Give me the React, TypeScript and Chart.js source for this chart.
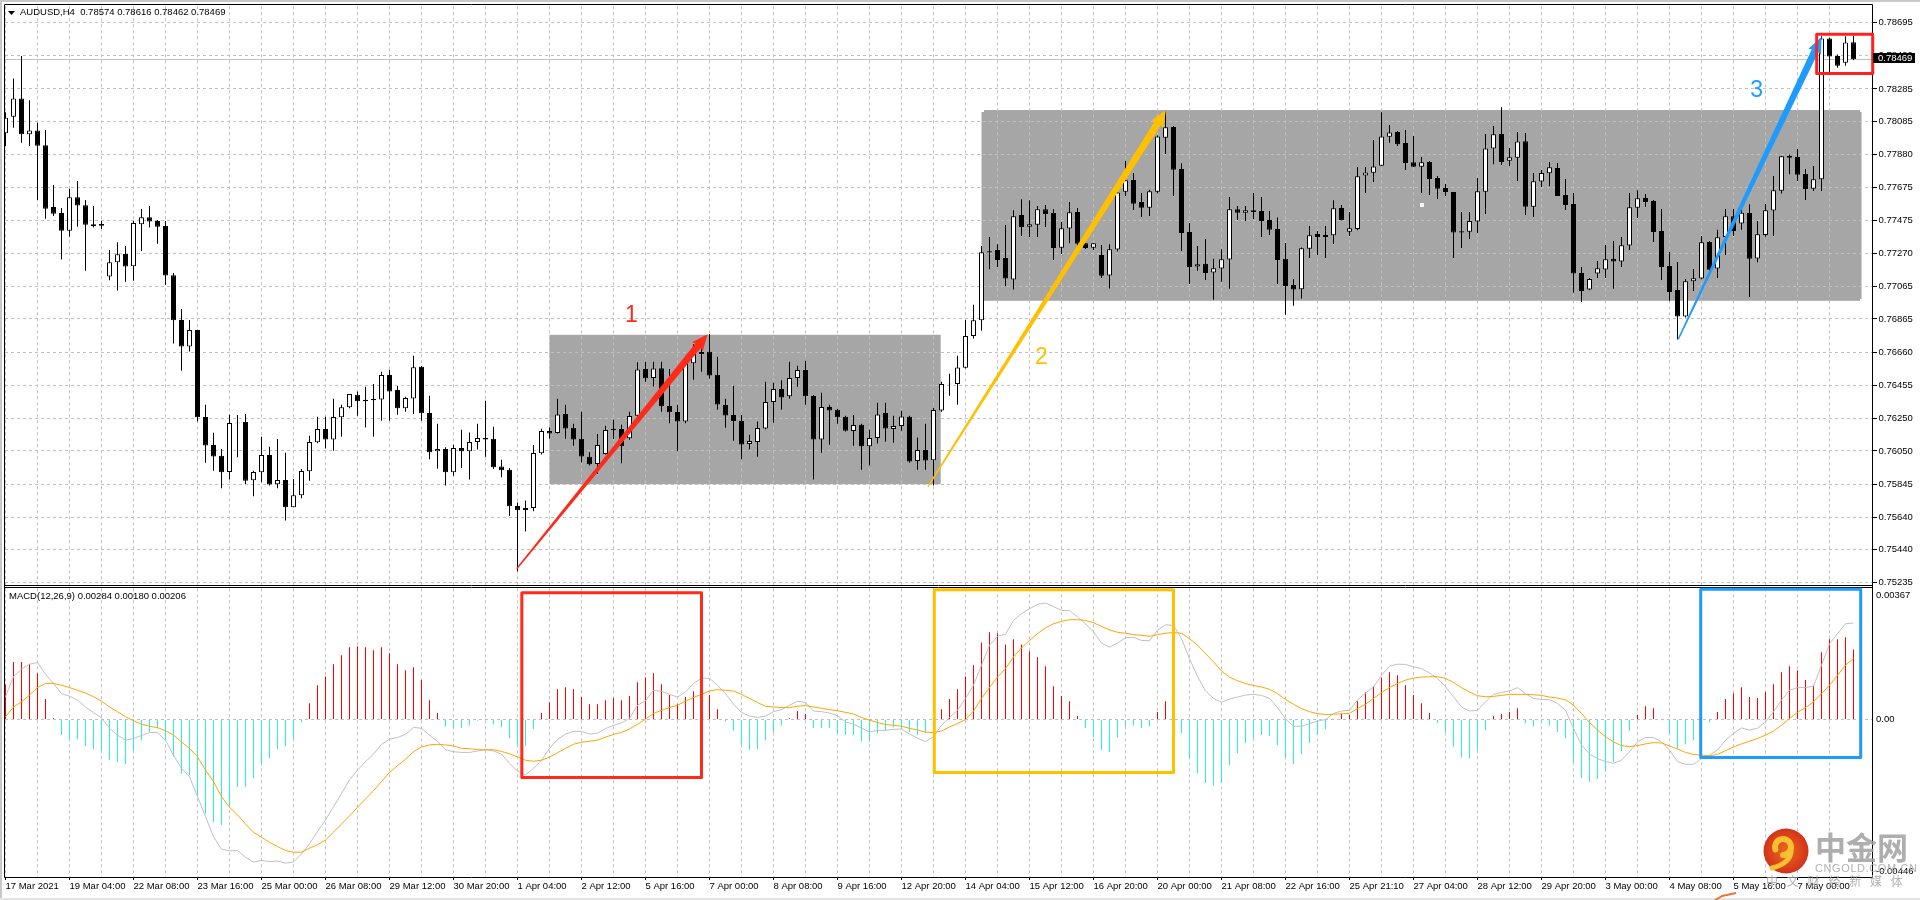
import React, { useEffect, useRef } from "react";
import { Chart, registerables } from "chart.js";

Chart.register(...registerables);

const symbolTitle = "AUDUSD,H4  0.78574 0.78616 0.78462 0.78469";
const macdTitle = "MACD(12,26,9) 0.00284 0.00180 0.00206";
const lastPrice = 0.78469;

const priceTicks = [0.78695,0.7849,0.78285,0.78085,0.7788,0.77675,0.77475,0.7727,0.77065,0.76865,0.7666,0.76455,0.7625,0.7605,0.75845,0.7564,0.7544,0.75235];
const macdTicks = [0.00367, 0, -0.00446];
const macdTickLabels = ["0.00367", "0.00", "-0.00446"];
const timeLabels = ["17 Mar 2021","19 Mar 04:00","22 Mar 08:00","23 Mar 16:00","25 Mar 00:00","26 Mar 08:00","29 Mar 12:00","30 Mar 20:00","1 Apr 04:00","2 Apr 12:00","5 Apr 16:00","7 Apr 00:00","8 Apr 08:00","9 Apr 16:00","12 Apr 20:00","14 Apr 04:00","15 Apr 12:00","16 Apr 20:00","20 Apr 00:00","21 Apr 08:00","22 Apr 16:00","25 Apr 21:10","27 Apr 04:00","28 Apr 12:00","29 Apr 20:00","3 May 00:00","4 May 08:00","5 May 16:00","7 May 00:00"];

const opens = [
0.78011,0.78114,0.78227,0.78005,0.78029,0.77937,0.77556,0.77519,0.7741,0.77616,
0.77567,0.77449,0.77451,0.77127,0.77215,0.77266,0.7719,0.77449,0.77493,0.7747,
0.77439,0.77135,0.76859,0.76695,0.76796,0.76259,0.76086,0.7602,0.7592,0.76224,
0.76228,0.75868,0.75918,0.76025,0.75844,0.7587,0.75702,0.75776,0.75924,0.76103,
0.76185,0.76121,0.76257,0.76319,0.76397,0.76366,0.7637,0.76368,0.76518,0.76426,
0.76313,0.76374,0.76569,0.76284,0.76047,0.76062,0.75918,0.76068,0.76047,0.76105,
0.7613,0.76125,0.75953,0.75934,0.7571,0.75685,0.75698,0.76035,0.76173,0.7616,
0.76278,0.76193,0.76125,0.76014,0.75969,0.76031,0.76187,0.76185,0.76128,0.76267,
0.76555,0.765,0.76561,0.76327,0.7629,0.76232,0.76592,0.76648,0.76662,0.7652,
0.76333,0.76271,0.76234,0.76092,0.76105,0.76189,0.76352,0.76432,0.76387,0.765,
0.76549,0.76389,0.76121,0.76321,0.76304,0.76261,0.76173,0.76212,0.76078,0.7613,
0.76284,0.76185,0.76203,0.76261,0.75988,0.76056,0.75992,0.763,0.76465,0.76463,
0.76563,0.76759,0.76857,0.77283,0.77291,0.77242,0.77108,0.77507,0.77435,0.77447,
0.77542,0.77519,0.77305,0.77423,0.77526,0.77332,0.77305,0.7726,0.77133,0.77293,
0.77651,0.77723,0.77587,0.77552,0.77651,0.77984,0.7805,0.77791,0.77402,0.77188,
0.77205,0.77151,0.77176,0.77232,0.77542,0.77521,0.77536,0.77532,0.77476,0.77421,
0.77236,0.77075,0.77049,0.77299,0.7739,0.77384,0.77382,0.7755,0.77404,0.77421,
0.7775,0.77768,0.77811,0.7799,0.78019,0.77951,0.77832,0.77805,0.77834,0.77735,
0.77674,0.77649,0.77406,0.77404,0.77466,0.77651,0.77918,0.78007,0.77842,0.77861,
0.77963,0.77558,0.77713,0.77764,0.77797,0.7763,0.77575,0.77149,0.77046,0.77145,
0.7717,0.77236,0.77219,0.77318,0.77552,0.77612,0.77593,0.77408,0.77192,0.77044,
0.7688,0.77098,0.77114,0.7734,0.77176,0.77371,0.77499,0.77454,0.77519,0.77238,
0.77384,0.77534,0.77657,0.77871,0.77865,0.7776,0.77669,0.77727,0.78597,0.78488,
0.78447,0.78574];

const closes = [
0.78107,0.78227,0.78005,0.78029,0.77935,0.77546,0.77515,0.7741,0.77616,0.77565,
0.77447,0.77439,0.77441,0.77215,0.77264,0.77188,0.77458,0.77493,0.77466,0.77435,
0.77133,0.76857,0.76695,0.76796,0.76257,0.76084,0.76016,0.75918,0.76222,0.7622,
0.75866,0.7592,0.76025,0.75842,0.7587,0.75702,0.75776,0.75926,0.76105,0.76185,
0.76121,0.76259,0.76319,0.76401,0.76356,0.76356,0.76362,0.76518,0.76417,0.76313,
0.76376,0.76567,0.76282,0.76041,0.76062,0.75918,0.76068,0.76047,0.76105,0.7613,
0.76121,0.75949,0.7593,0.75708,0.75683,0.75698,0.76037,0.76173,0.76158,0.76275,
0.76189,0.76121,0.76016,0.75967,0.76086,0.76179,0.76179,0.76078,0.76265,0.76553,
0.76498,0.76559,0.76325,0.76288,0.76232,0.76596,0.76648,0.7666,0.76516,0.76337,
0.76269,0.76234,0.7609,0.76111,0.76191,0.76352,0.76432,0.7638,0.765,0.76549,
0.76387,0.76121,0.76321,0.763,0.76257,0.76175,0.7621,0.76078,0.7613,0.76275,
0.76189,0.76203,0.76263,0.75984,0.76056,0.7599,0.76302,0.76463,0.76461,0.76565,
0.76759,0.76857,0.77277,0.77275,0.77229,0.77114,0.77499,0.77433,0.77449,0.77542,
0.77513,0.77303,0.77425,0.77524,0.7733,0.77303,0.77332,0.77131,0.77295,0.77645,
0.77721,0.77577,0.77552,0.77653,0.77992,0.78048,0.77787,0.77396,0.77186,0.77203,
0.77149,0.77178,0.77234,0.77542,0.77521,0.77536,0.77526,0.7747,0.77415,0.77229,
0.77069,0.77046,0.77301,0.77382,0.77371,0.77371,0.77548,0.77476,0.77425,0.77746,
0.7777,0.77807,0.77992,0.78017,0.77943,0.77828,0.77805,0.77832,0.77729,0.77669,
0.77649,0.77398,0.77398,0.7747,0.77653,0.77918,0.78005,0.77834,0.77863,0.77961,
0.77558,0.77715,0.77766,0.77801,0.77624,0.77569,0.77145,0.77038,0.77112,0.77178,
0.77234,0.77219,0.7732,0.77554,0.7761,0.77587,0.77402,0.77186,0.77032,0.7688,
0.77098,0.77116,0.77338,0.77168,0.77369,0.77499,0.77408,0.77521,0.77236,0.77388,
0.77536,0.77659,0.77869,0.77861,0.77756,0.77667,0.77727,0.78597,0.78486,0.78428,
0.78572,0.78469];

const highs = [
0.78142,0.7835,0.78488,0.78216,0.78077,0.78031,0.77692,0.7755,0.77667,0.77717,
0.776,0.77563,0.7747,0.77291,0.77338,0.77316,0.7747,0.77544,0.77563,0.77476,
0.7747,0.77149,0.76927,0.76859,0.76798,0.76335,0.76162,0.76062,0.76273,0.76271,
0.76278,0.75928,0.76138,0.76076,0.76123,0.76039,0.75877,0.75938,0.76144,0.76261,
0.76261,0.76372,0.76335,0.76401,0.76417,0.76446,0.76463,0.76539,0.76551,0.7645,
0.76384,0.76637,0.76574,0.76391,0.76218,0.76072,0.76088,0.76181,0.76164,0.76218,
0.7636,0.76199,0.75996,0.75944,0.75731,0.75743,0.76086,0.76187,0.76195,0.76372,
0.76335,0.76218,0.76292,0.76041,0.76154,0.76206,0.76243,0.76212,0.76292,0.76598,
0.766,0.766,0.766,0.76555,0.76335,0.76637,0.76709,0.76709,0.76771,0.76631,
0.76372,0.76452,0.76271,0.7615,0.76232,0.76477,0.76471,0.76487,0.766,0.76576,
0.76606,0.76395,0.76409,0.76335,0.7631,0.76267,0.76271,0.76218,0.76181,0.76348,
0.76348,0.76267,0.76298,0.76267,0.76132,0.76218,0.76315,0.76477,0.76526,0.76637,
0.76859,0.76952,0.77316,0.77371,0.77326,0.77445,0.77536,0.77604,0.77598,0.77563,
0.77569,0.77542,0.77464,0.77587,0.7755,0.77336,0.77332,0.77322,0.77326,0.77676,
0.7784,0.77766,0.77643,0.77663,0.77998,0.78149,0.78056,0.77826,0.77458,0.77316,
0.77359,0.77236,0.77295,0.77618,0.77563,0.77563,0.77643,0.77618,0.77532,0.77491,
0.77334,0.77112,0.77306,0.77439,0.77408,0.77439,0.77598,0.77569,0.77526,0.77803,
0.77803,0.7797,0.78142,0.78062,0.78025,0.78031,0.77994,0.77865,0.7784,0.77748,
0.77698,0.77649,0.77526,0.77526,0.77735,0.78007,0.78056,0.78173,0.7792,0.78019,
0.78013,0.77766,0.77785,0.77834,0.77828,0.77729,0.77643,0.77186,0.77118,0.77223,
0.77322,0.77347,0.77371,0.77643,0.77659,0.77637,0.776,0.77544,0.77279,0.77217,
0.77112,0.77174,0.77377,0.77347,0.77415,0.77544,0.77544,0.77563,0.77573,0.7747,
0.77575,0.77748,0.77871,0.77881,0.77914,0.77791,0.77809,0.78611,0.78601,0.78498,
0.78611,0.78616];

const lows = [
0.77933,0.78046,0.77953,0.77933,0.776,0.77484,0.77501,0.77232,0.77373,0.77435,
0.77162,0.77429,0.77421,0.77104,0.7704,0.77094,0.771,0.77285,0.77429,0.7733,
0.77075,0.76713,0.76545,0.76664,0.76232,0.75977,0.75928,0.75819,0.75873,0.7601,
0.75846,0.7577,0.75856,0.75836,0.75819,0.7562,0.75702,0.75757,0.75866,0.76097,
0.76064,0.76051,0.76138,0.76313,0.76267,0.76195,0.76138,0.76236,0.76236,0.76273,
0.76292,0.76278,0.76236,0.75998,0.7594,0.75836,0.75897,0.75944,0.75873,0.76058,
0.76014,0.75938,0.75887,0.7565,0.75307,0.75552,0.75677,0.76027,0.76125,0.76158,
0.76125,0.76082,0.75979,0.75959,0.75907,0.76027,0.76123,0.75973,0.76119,0.76257,
0.76477,0.76448,0.76292,0.7622,0.76047,0.7622,0.76489,0.76539,0.76495,0.76304,
0.76193,0.76113,0.75998,0.76058,0.76014,0.76183,0.76224,0.76304,0.76372,0.76446,
0.76335,0.75873,0.76039,0.76088,0.76218,0.76169,0.76082,0.75934,0.75959,0.76095,
0.76107,0.76101,0.76175,0.75977,0.75934,0.75934,0.75836,0.76292,0.76391,0.76335,
0.76559,0.76744,0.76792,0.77172,0.77186,0.77069,0.77046,0.77377,0.77371,0.77371,
0.77433,0.77229,0.77266,0.77332,0.77301,0.77297,0.77291,0.77118,0.77053,0.77281,
0.77624,0.77538,0.77495,0.77501,0.77639,0.77883,0.77624,0.77285,0.77081,0.77162,
0.77106,0.76983,0.77094,0.77051,0.77476,0.7747,0.77482,0.77371,0.77384,0.77081,
0.7689,0.76946,0.76991,0.77242,0.7726,0.77242,0.77328,0.77474,0.77377,0.77412,
0.77643,0.77711,0.77809,0.77953,0.77933,0.77785,0.77803,0.77643,0.7763,0.77606,
0.77624,0.77242,0.77303,0.77359,0.77396,0.77513,0.7782,0.77815,0.77809,0.77717,
0.77507,0.77495,0.7768,0.77684,0.77624,0.77538,0.77026,0.7697,0.77042,0.77118,
0.77118,0.77051,0.77186,0.77291,0.77489,0.77558,0.7734,0.77106,0.76977,0.76738,
0.76874,0.77038,0.7711,0.77162,0.77118,0.7726,0.77377,0.77415,0.77001,0.77215,
0.77373,0.77377,0.77639,0.77758,0.77717,0.776,0.77655,0.77655,0.78385,0.78416,
0.78428,0.78462];

const histogram = [
0.00104,0.00169,0.00169,0.00163,0.00136,0.0006,0.00004,-0.00046,-0.00056,-0.00058,
-0.00078,-0.00087,-0.00092,-0.0012,-0.00125,-0.00131,-0.00092,-0.00061,-0.00038,-0.00026,
-0.00059,-0.0011,-0.00159,-0.00164,-0.00227,-0.00278,-0.00302,-0.00311,-0.00255,-0.00199,
-0.00199,-0.00172,-0.00131,-0.00114,-0.00087,-0.00078,-0.00056,-0.00008,0.00048,0.00101,
0.00127,0.00163,0.00189,0.00213,0.00216,0.00213,0.00204,0.00213,0.00195,0.00163,
0.00145,0.00154,0.00116,0.00057,0.00019,-0.00021,-0.00024,-0.00025,-0.00017,-0.00004,
0.00001,-0.00014,-0.00023,-0.00055,-0.00075,-0.00078,-0.00028,0.00019,0.00051,0.00089,
0.00095,0.00089,0.00066,0.00045,0.00045,0.00057,0.00063,0.00057,0.00069,0.0011,
0.00124,0.00136,0.00104,0.00072,0.00045,0.00066,0.00083,0.00086,0.00072,0.0003,
-0.00005,-0.00034,-0.00074,-0.0009,-0.00087,-0.00061,-0.00037,-0.00017,0.00004,0.00025,
0.00016,-0.00025,-0.00025,-0.00025,-0.0004,-0.00046,-0.00046,-0.00064,-0.00064,-0.0004,
-0.00034,-0.00023,-0.00027,-0.00037,-0.00046,-0.00039,-0.00052,0.0003,0.0006,0.00089,
0.00127,0.0016,0.00227,0.00257,0.00254,0.00221,0.00236,0.00221,0.00201,0.00183,
0.00157,0.00098,0.00069,0.00054,0.0001,-0.00025,-0.00052,-0.0009,-0.00096,-0.00052,
-0.0002,-0.00017,-0.00025,-0.0002,0.00022,0.00054,0,-0.0004,-0.00114,-0.00158,
-0.00187,-0.00195,-0.00187,-0.00134,-0.00099,-0.0007,-0.00055,-0.00046,-0.00049,-0.00075,
-0.00111,-0.00131,-0.00102,-0.0007,-0.00046,-0.00028,0.00001,0.00016,0.00013,0.00054,
0.0008,0.00098,0.00124,0.00139,0.0013,0.00101,0.00072,0.00048,0.00019,-0.00011,
-0.00037,-0.00081,-0.00111,-0.00114,-0.0009,-0.00031,0.0001,0.00016,0.00022,0.00033,
-0.00011,-0.0002,-0.00008,-0.00017,-0.00037,-0.00055,-0.00126,-0.00172,-0.00184,-0.00175,
-0.00152,-0.00125,-0.00093,-0.00034,0.00013,0.00039,0.00033,-0.00002,-0.0004,-0.00087,
-0.00073,-0.00061,-0.0006,-0.00008,0.00022,0.0006,0.00077,0.00095,0.00066,0.00063,
0.0008,0.00104,0.00139,0.00157,0.00145,0.00116,0.00101,0.00198,0.00236,0.00236,
0.00242,0.00206];

const macdLine = [
0.00067,0.00127,0.00148,0.00163,0.00168,0.00133,0.00106,0.00076,0.00069,0.00057,
0.00037,0.0002,0.00005,-0.00026,-0.00046,-0.00061,-0.00056,-0.00047,-0.00039,-0.00038,
-0.00061,-0.00105,-0.00144,-0.00169,-0.00227,-0.00286,-0.00345,-0.00382,-0.00387,-0.00386,
-0.00406,-0.0042,-0.00415,-0.00419,-0.00417,-0.00423,-0.0042,-0.00396,-0.00366,-0.0033,
-0.00296,-0.00257,-0.00218,-0.00178,-0.00149,-0.00124,-0.00102,-0.00073,-0.00058,-0.00053,
-0.00044,-0.00023,-0.00026,-0.00046,-0.00064,-0.00089,-0.00095,-0.00097,-0.00097,-0.00093,
-0.00089,-0.00093,-0.00102,-0.00129,-0.00152,-0.00163,-0.00144,-0.0012,-0.00085,-0.00059,
-0.00043,-0.00035,-0.00035,-0.00043,-0.0004,-0.00027,-0.00017,-0.0001,0.00003,0.00042,
0.00055,0.00086,0.00083,0.00074,0.00066,0.00081,0.00106,0.00122,0.00121,0.00101,
0.00076,0.00045,0.00021,0.0001,0.00006,0.0001,0.00023,0.00029,0.00042,0.00054,
0.0005,0.00025,0.00023,0.00019,0.00011,-0.00007,-0.00014,-0.00025,-0.00037,-0.00032,
-0.00032,-0.00029,-0.00028,-0.00043,-0.00055,-0.00065,-0.00051,-0.00017,0.00006,0.00027,
0.00062,0.00101,0.0016,0.00219,0.00245,0.00251,0.00292,0.00312,0.00326,0.00339,
0.00343,0.00333,0.00321,0.00321,0.00302,0.00282,0.00258,0.00225,0.00213,0.00225,
0.00241,0.00242,0.00233,0.00232,0.00263,0.00279,0.00277,0.00238,0.00179,0.00127,
0.00084,0.00062,0.00051,0.0006,0.00066,0.00072,0.00074,0.00071,0.00062,0.00035,
0.00002,-0.0002,-0.0002,-0.00012,-0.00005,0,0.00018,0.00025,0.00027,0.00057,
0.00078,0.00096,0.0013,0.00157,0.00163,0.00162,0.00155,0.0015,0.00137,0.00121,
0.00096,0.00067,0.00037,0.00025,0.00027,0.00052,0.00074,0.0008,0.00084,0.00094,
0.00076,0.00062,0.00059,0.00059,0.00047,0.00027,-0.00026,-0.00075,-0.00102,-0.00115,
-0.00124,-0.00129,-0.0012,-0.00095,-0.00066,-0.00053,-0.00053,-0.00066,-0.0009,-0.00124,
-0.00132,-0.00132,-0.00115,-0.00105,-0.0009,-0.00061,-0.00041,-0.00025,-0.00031,-0.00026,
-0.00007,0.00023,0.00057,0.00086,0.00094,0.00094,0.00098,0.0016,0.00223,0.00253,
0.00282,0.00284];

const signalLine = [
0.00008,0.00037,0.00052,0.00072,0.00094,0.00106,0.00106,0.00101,0.00094,0.00086,
0.00078,0.00067,0.00054,0.00037,0.00023,0.00008,-0.00004,-0.00014,-0.0002,-0.00024,
-0.00033,-0.00046,-0.00066,-0.00085,-0.0011,-0.00149,-0.00183,-0.00227,-0.00259,-0.00281,
-0.00308,-0.00332,-0.00347,-0.00362,-0.00374,-0.00386,-0.00391,-0.00391,-0.00379,-0.00369,
-0.00355,-0.00332,-0.00308,-0.00284,-0.00259,-0.00234,-0.0021,-0.00183,-0.00156,-0.00136,
-0.00117,-0.00095,-0.00081,-0.00075,-0.00073,-0.00075,-0.00078,-0.00085,-0.00086,-0.00089,
-0.00089,-0.00089,-0.00094,-0.00101,-0.0011,-0.0012,-0.00123,-0.0012,-0.00111,-0.00098,
-0.00085,-0.00073,-0.00067,-0.00064,-0.00061,-0.00052,-0.00044,-0.00038,-0.00028,-0.00014,
0.00001,0.00018,0.00027,0.00035,0.00042,0.00054,0.00065,0.00074,0.00084,0.00088,
0.00086,0.00084,0.00074,0.00062,0.0005,0.00039,0.00037,0.00035,0.00035,0.00039,
0.00041,0.00037,0.00033,0.00029,0.00026,0.00021,0.00016,0.00006,-0.00002,-0.00009,
-0.00015,-0.00017,-0.0002,-0.00026,-0.00031,-0.00037,-0.00039,-0.00034,-0.00022,-0.00012,
0,0.00025,0.00062,0.00094,0.00125,0.0015,0.00184,0.00211,0.00233,0.00253,
0.0027,0.00282,0.00289,0.00294,0.00294,0.00292,0.00285,0.00274,0.00264,0.00257,
0.00254,0.0025,0.00248,0.00245,0.0025,0.00254,0.00256,0.00254,0.00238,0.00219,
0.00194,0.0017,0.00143,0.00125,0.00114,0.00106,0.001,0.00096,0.00089,0.00076,
0.00059,0.00045,0.00032,0.00023,0.00017,0.00015,0.00015,0.00017,0.00018,0.00032,
0.00045,0.00062,0.00079,0.00094,0.00106,0.00116,0.00122,0.00125,0.00126,0.00126,
0.00121,0.00109,0.00094,0.00081,0.0007,0.00067,0.00068,0.00071,0.00074,0.00074,
0.00074,0.00073,0.00071,0.00066,0.00063,0.00058,0.00042,0.00018,-0.00009,-0.00031,
-0.00051,-0.00066,-0.00077,-0.0008,-0.00077,-0.00072,-0.00068,-0.00069,-0.00078,-0.00087,
-0.00097,-0.00103,-0.00105,-0.00107,-0.00103,-0.00092,-0.00081,-0.00072,-0.00064,-0.00056,
-0.00046,-0.00034,-0.00017,0.00003,0.00021,0.00035,0.00052,0.00076,0.00101,0.0013,
0.0016,0.0018];

// annotation anchors, in (bar index, price) and (bar index, MACD value)
const zones = [
  { from: 68, to: 116.9, top: 0.76767, bottom: 0.75844 },
  { from: 122, to: 232, top: 0.78155, bottom: 0.76977 },
];
const zoneHandles = [
  { x: 122, y: 0.78155 }, { x: 232, y: 0.78155 }, { x: 232, y: 0.76977 }, { x: 177.1, y: 0.77570 },
];
const arrows = [
  { x0: 63.9, y0: 0.75322, x1: 87.75, y1: 0.76771, color: "#ff2a1a" },
  { x0: 115.3, y0: 0.75829, x1: 145.05, y1: 0.78153, color: "#ffc000" },
  { x0: 209.1, y0: 0.76740, x1: 227.0, y1: 0.78605, color: "#1e9bff" },
];
const numberNotes = [
  { x: 78.25, y: 0.76885, text: "1", color: "#ff2a1a" },
  { x: 129.5, y: 0.76627, text: "2", color: "#ffc000" },
  { x: 218.9, y: 0.78272, text: "3", color: "#1e9bff" },
];
const macdBoxes = [
  { x0: 64.54, x1: 87.0, top: 0.00373, bottom: -0.00171, color: "#ff2a1a" },
  { x0: 116.1, x1: 146.0, top: 0.00382, bottom: -0.00156, color: "#ffc000" },
  { x0: 211.9, x1: 231.9, top: 0.00384, bottom: -0.00112, color: "#1e9bff" },
];
const priceBox = { x0: 226.4, x1: 233.4, top: 0.78623, bottom: 0.78381, color: "#ff2020" };

const FONT = '"Liberation Sans",sans-serif';
const FONT_SIZE = 9.5;
const barIndex = opens.map((_, i) => i);
const xGridTicks = timeLabels.flatMap((_, k) => [k * 8, k * 8 + 4]).filter((v) => v <= 232);

function drawArrow(ctx: CanvasRenderingContext2D, x0: number, y0: number, x1: number, y1: number, color: string) {
  const len = Math.hypot(x1 - x0, y1 - y0);
  const ux = (x1 - x0) / len, uy = (y1 - y0) / len;
  const nx = -uy, ny = ux;
  const headLen = 15, headHalf = 7, shaftHalf = 3.6, tailHalf = 0.7;
  const bx = x1 - ux * headLen, by = y1 - uy * headLen;
  ctx.fillStyle = color;
  ctx.beginPath();
  ctx.moveTo(x0 + nx * tailHalf, y0 + ny * tailHalf);
  ctx.lineTo(bx + nx * shaftHalf, by + ny * shaftHalf);
  ctx.lineTo(bx + nx * headHalf - ux * 1, by + ny * headHalf - uy * 1);
  ctx.lineTo(x1, y1);
  ctx.lineTo(bx - nx * headHalf - ux * 1, by - ny * headHalf - uy * 1);
  ctx.lineTo(bx - nx * shaftHalf, by - ny * shaftHalf);
  ctx.lineTo(x0 - nx * tailHalf, y0 - ny * tailHalf);
  ctx.closePath();
  ctx.fill();
}

function drawWatermark(ctx: CanvasRenderingContext2D) {
  const cx = 1786, cy = 851;
  const g = ctx.createRadialGradient(cx, cy, 4, cx, cy, 23);
  g.addColorStop(0, "#e8601c");
  g.addColorStop(1, "#d2311a");
  ctx.fillStyle = g;
  ctx.beginPath();
  ctx.arc(cx, cy, 22.5, 0, Math.PI * 2);
  ctx.fill();
  ctx.strokeStyle = "#f8c030";
  ctx.lineCap = "round";
  ctx.lineWidth = 6;
  ctx.beginPath();
  ctx.arc(cx - 3, cy - 4, 8, Math.PI * 0.9, Math.PI * 2.5);
  ctx.stroke();
  ctx.lineWidth = 5;
  ctx.beginPath();
  ctx.moveTo(cx + 5, cy - 2);
  ctx.quadraticCurveTo(cx + 6, cy + 12, cx - 14, cy + 17);
  ctx.stroke();
  ctx.lineCap = "butt";
  ctx.textAlign = "left";
  ctx.textBaseline = "middle";
  ctx.fillStyle = "rgba(160,160,160,0.85)";
  ctx.font = 'bold 31px "Noto Sans CJK SC"';
  ctx.fillText("中金网", 1815, 847);
  ctx.fillStyle = "rgba(170,170,170,0.9)";
  ctx.font = '11px "Liberation Sans"';
  (ctx as any).letterSpacing = "0.6px";
  ctx.fillText("CNGOLD.COM.CN", 1815, 869);
  ctx.font = '12px "Noto Sans CJK SC"';
  (ctx as any).letterSpacing = "8.8px";
  ctx.fillText("中文财经新媒体", 1766, 881);
  (ctx as any).letterSpacing = "0px";
}

const backdropPlugin = {
  id: "backdrop",
  beforeDraw(chart: any) {
    const { ctx, scales } = chart;
    ctx.save();
    ctx.fillStyle = "#ffffff";
    ctx.fillRect(0, 0, 1920, 900);
    ctx.fillStyle = "#c8c8c8";
    ctx.fillRect(0, 0, 1920, 2);
    ctx.fillRect(0, 0, 2, 900);
    ctx.fillStyle = "#e4e4e4";
    ctx.fillRect(0, 898, 1920, 2);
    ctx.fillStyle = "#a6a6a6";
    for (const z of zones) {
      const l = scales.x.getPixelForValue(z.from), r = scales.x.getPixelForValue(z.to);
      const t = scales.y.getPixelForValue(z.top), b = scales.y.getPixelForValue(z.bottom);
      ctx.fillRect(l, t, r - l, b - t);
    }
    ctx.restore();
  },
  beforeDatasetsDraw(chart: any) {
    const { ctx, scales, chartArea } = chart;
    ctx.save();
    ctx.strokeStyle = "#c0c0c0";
    ctx.lineWidth = 1;
    const y = Math.round(scales.y.getPixelForValue(lastPrice)) + 0.5;
    ctx.beginPath();
    ctx.moveTo(chartArea.left, y);
    ctx.lineTo(chartArea.right, y);
    ctx.stroke();
    ctx.restore();
  },
};

const overlayPlugin = {
  id: "overlay",
  afterDraw(chart: any) {
    const { ctx, scales } = chart;
    const X = (v: number) => scales.x.getPixelForValue(v);
    const Y = (v: number) => scales.y.getPixelForValue(v);
    const M = (v: number) => scales.yMacd.getPixelForValue(v);
    ctx.save();

    // panel frame
    ctx.strokeStyle = "#000";
    ctx.lineWidth = 1;
    ctx.beginPath();
    ctx.moveTo(4.5, 4.5); ctx.lineTo(1872.5, 4.5);
    ctx.moveTo(4.5, 4.5); ctx.lineTo(4.5, 877.5);
    ctx.moveTo(1872.5, 4.5); ctx.lineTo(1872.5, 877.5);
    ctx.moveTo(4.5, 585.5); ctx.lineTo(1872.5, 585.5);
    ctx.moveTo(4.5, 587.5); ctx.lineTo(1872.5, 587.5);
    ctx.moveTo(4.5, 877.5); ctx.lineTo(1872.5, 877.5);
    ctx.stroke();

    // zone handles
    ctx.fillStyle = "#fff";
    for (const h of zoneHandles) {
      const px = Math.round(X(h.x)), py = Math.round(Y(h.y));
      ctx.fillRect(px - 2, py - 2, 4, 4);
    }

    // arrows
    for (const a of arrows) drawArrow(ctx, X(a.x0), Y(a.y0), X(a.x1), Y(a.y1), a.color);

    // numbered notes
    ctx.textAlign = "center";
    ctx.textBaseline = "middle";
    ctx.font = '23px "Liberation Sans"';
    for (const n of numberNotes) {
      ctx.fillStyle = n.color;
      ctx.fillText(n.text, X(n.x), Y(n.y));
    }

    // boxes
    ctx.lineWidth = 3;
    ctx.lineJoin = "round";
    for (const b of macdBoxes) {
      ctx.strokeStyle = b.color;
      ctx.strokeRect(X(b.x0), M(b.top), X(b.x1) - X(b.x0), M(b.bottom) - M(b.top));
    }
    ctx.strokeStyle = priceBox.color;
    ctx.strokeRect(X(priceBox.x0), Y(priceBox.top), X(priceBox.x1) - X(priceBox.x0), Y(priceBox.bottom) - Y(priceBox.top));

    // current price tag
    const tagY = Math.round(Y(lastPrice));
    ctx.fillStyle = "#000";
    ctx.fillRect(1873, tagY - 6, 42, 10);
    ctx.fillStyle = "#fff";
    ctx.font = FONT_SIZE + "px " + FONT;
    ctx.textAlign = "left";
    ctx.textBaseline = "middle";
    ctx.fillText(lastPrice.toFixed(5), 1878, tagY - 1);

    // titles
    ctx.fillStyle = "#000";
    ctx.beginPath();
    ctx.moveTo(8, 11); ctx.lineTo(15, 11); ctx.lineTo(11.5, 15);
    ctx.closePath();
    ctx.fill();
    ctx.fillText(symbolTitle, 20, 12.5);
    ctx.fillText(macdTitle, 9, 596);

    drawWatermark(ctx);

    // cropped screenshot remnant at the lower edge
    ctx.strokeStyle = "#f0703a";
    ctx.lineWidth = 2;
    ctx.beginPath();
    ctx.moveTo(1715, 900); ctx.lineTo(1722, 896); ctx.lineTo(1736, 893);
    ctx.stroke();
    ctx.restore();
  },
};

export default function App() {
  const ref = useRef<HTMLCanvasElement>(null);
  useEffect(() => {
    const chart = new Chart(ref.current as HTMLCanvasElement, {
      type: "bar",
      data: {
        datasets: [
          {
            label: "Signal", type: "line", yAxisID: "yMacd", order: 3,
            data: barIndex.map((i) => ({ x: i, y: signalLine[i] })),
            borderColor: "#ffa500", borderWidth: 1, pointRadius: 0, tension: 0,
          },
          {
            label: "MACD", type: "line", yAxisID: "yMacd", order: 4,
            data: barIndex.map((i) => ({ x: i, y: macdLine[i] })),
            borderColor: "#c0c0c0", borderWidth: 1, pointRadius: 0, tension: 0,
          },
          {
            label: "Histogram", yAxisID: "yMacd", order: 5, barThickness: 1, grouped: false, inflateAmount: 0,
            data: barIndex.map((i) => ({ x: i, y: histogram[i] })),
            backgroundColor: histogram.map((v) => (v >= 0 ? "#ff0000" : "#22eeee")),
          },
          {
            label: "Body", yAxisID: "y", order: 1, barThickness: 5, grouped: false, inflateAmount: 0,
            data: barIndex.map((i) => ({ x: i, y: [Math.min(opens[i], closes[i]), Math.max(opens[i], closes[i])] })),
            backgroundColor: barIndex.map((i) => (closes[i] >= opens[i] ? "#ffffff" : "#000000")),
            borderColor: "#000000", borderWidth: 1, borderSkipped: false,
          },
          {
            label: "Wick", yAxisID: "y", order: 2, barThickness: 1, grouped: false, inflateAmount: 0,
            data: barIndex.map((i) => ({ x: i, y: [lows[i], highs[i]] })),
            backgroundColor: "#000000",
          },
        ] as any,
      },
      options: {
        responsive: false,
        animation: false,
        devicePixelRatio: 1,
        events: [],
        layout: { padding: { left: 5, top: 5, right: 0, bottom: 0 } },
        plugins: { legend: { display: false }, tooltip: { enabled: false } },
        scales: {
          x: {
            type: "linear", position: "bottom", offset: false,
            min: -0.0625, max: 233.4375,
            afterBuildTicks: (s: any) => { s.ticks = xGridTicks.map((value) => ({ value })); },
            afterFit: (s: any) => { s.height = 23; },
            border: { display: false, dash: [3, 3] },
            grid: {
              offset: false, color: "#c0c0c0", tickLength: 3, tickBorderDash: [],
              tickColor: (c: any) => (c.tick && c.tick.value % 8 === 0 ? "#000" : "transparent"),
            },
            ticks: {
              autoSkip: false, maxRotation: 0, minRotation: 0, align: "start", padding: 1, color: "#000",
              font: { family: FONT, size: FONT_SIZE },
              callback: (v: any) => (v % 8 === 0 ? timeLabels[v / 8] : ""),
            },
          },
          y: {
            type: "linear", position: "right", stack: "panes", stackWeight: 581, weight: 1,
            min: 0.75213, max: 0.78796,
            afterBuildTicks: (s: any) => { s.ticks = priceTicks.map((value) => ({ value })); },
            afterFit: (s: any) => { s.width = 47; },
            border: { display: false, dash: [3, 3] },
            grid: { color: "#c0c0c0", tickLength: 4, tickBorderDash: [], tickColor: "#000" },
            ticks: {
              autoSkip: false, padding: 1.5, color: "#000",
              font: { family: FONT, size: FONT_SIZE, lineHeight: 1 },
              callback: (v: any) => Number(v).toFixed(5),
            },
          },
          yMacd: {
            type: "linear", position: "right", stack: "panes", stackWeight: 291, weight: 2,
            min: -0.00464, max: 0.00392,
            afterBuildTicks: (s: any) => { s.ticks = macdTicks.map((value) => ({ value })); },
            afterFit: (s: any) => { s.width = 47; },
            border: { display: false, dash: [3, 3] },
            grid: {
              tickLength: 3, tickColor: "transparent", tickBorderDash: [],
              color: (c: any) => (c.tick && c.tick.value === 0 ? "#c0c0c0" : "transparent"),
            },
            ticks: {
              autoSkip: false, padding: 0, color: "#000",
              font: { family: FONT, size: FONT_SIZE, lineHeight: 1 },
              callback: (v: any) => macdTickLabels[macdTicks.indexOf(v)],
            },
          },
        },
      } as any,
      plugins: [backdropPlugin, overlayPlugin] as any,
    });
    return () => chart.destroy();
  }, []);
  return (
    <div style={{ position: "fixed", left: 0, top: 0, width: 1920, height: 900, background: "#fff" }}>
      <canvas ref={ref} width={1920} height={900} style={{ display: "block" }} />
    </div>
  );
}
